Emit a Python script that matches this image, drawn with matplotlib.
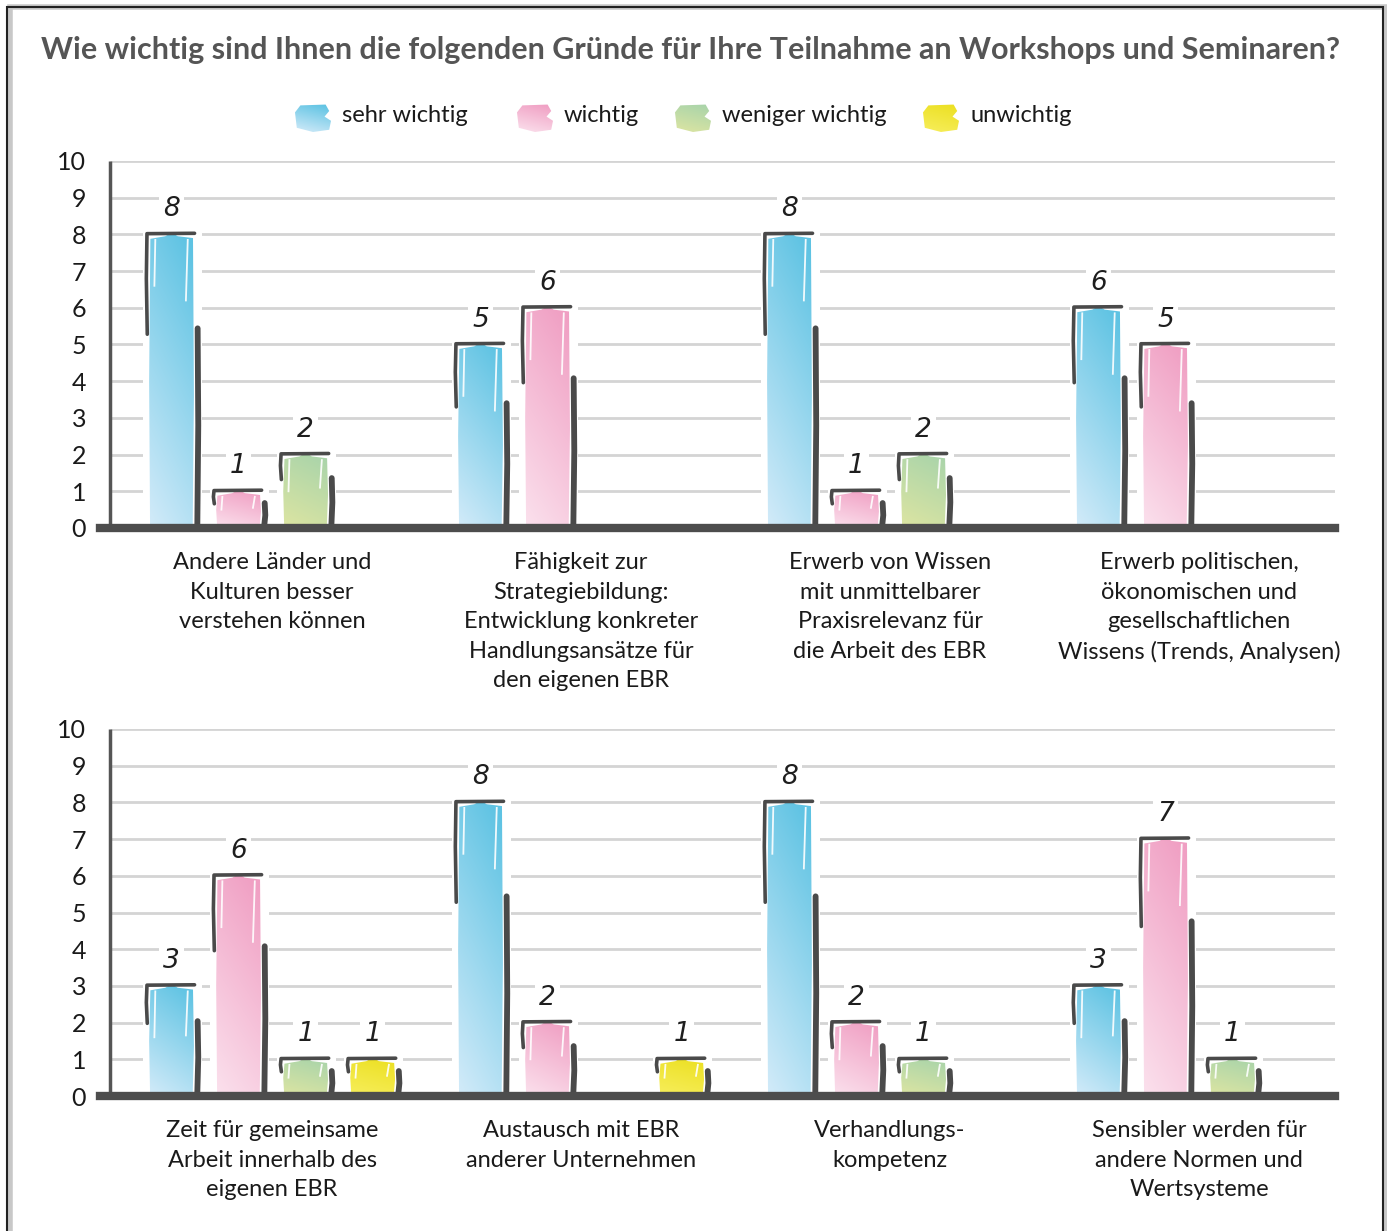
import matplotlib.pyplot as plt
import numpy as np
from matplotlib.colors import to_rgb
from matplotlib.patches import Rectangle, Polygon

plt.rcParams["font.family"] = ["Lato", "DejaVu Sans"]

title = "Wie wichtig sind Ihnen die folgenden Gründe für Ihre Teilnahme an Workshops und Seminaren?"
series = ["sehr wichtig", "wichtig", "weniger wichtig", "unwichtig"]

categories_top = [
    "Andere Länder und\nKulturen besser\nverstehen können",
    "Fähigkeit zur\nStrategiebildung:\nEntwicklung konkreter\nHandlungsansätze für\nden eigenen EBR",
    "Erwerb von Wissen\nmit unmittelbarer\nPraxisrelevanz für\ndie Arbeit des EBR",
    "Erwerb politischen,\nökonomischen und\ngesellschaftlichen\nWissens (Trends, Analysen)",
]
categories_bottom = [
    "Zeit für gemeinsame\nArbeit innerhalb des\neigenen EBR",
    "Austausch mit EBR\nanderer Unternehmen",
    "Verhandlungs-\nkompetenz",
    "Sensibler werden für\nandere Normen und\nWertsysteme",
]

sehr_top = [8, 5, 8, 6]
wichtig_top = [1, 6, 1, 5]
weniger_top = [2, 0, 2, 0]
unwichtig_top = [0, 0, 0, 0]

sehr_bottom = [3, 8, 8, 3]
wichtig_bottom = [6, 2, 2, 7]
weniger_bottom = [1, 0, 1, 1]
unwichtig_bottom = [1, 1, 0, 0]

y_ticks = list(range(11))

# gradient colours per series (top / bottom of bar)
col_top = ["#5ec3e3", "#f09fc3", "#a9d4aa", "#ece023"]
col_bot = ["#d3ebf9", "#fbe1ed", "#dde5a2", "#f7ee5c"]

W, H = 1387, 1231
fig = plt.figure(figsize=(W / 100, H / 100), dpi=100)
renderer = fig.canvas.get_renderer()

step = 0.217
bw = 0.145
xmin, xmax = -0.557, 3.44
xspine = -0.525
dark = "#4d4d4d"


def fit_width(txt, target_px):
    # shrink/grow a text so it spans the given pixel width
    w = txt.get_window_extent(renderer=renderer).width
    txt.set_fontsize(txt.get_fontsize() * target_px / w)


def gradient(top, bot, n=60):
    yy, xx = np.mgrid[0:1:n * 1j, 0:1:n * 1j]
    mix = np.clip(yy * 0.8 + xx * 0.25, 0, 1)[..., None]
    return np.array(to_rgb(bot)) + (np.array(to_rgb(top)) - np.array(to_rgb(bot))) * mix


def draw_panel(ax, cats, values):
    ax.set_xlim(xmin, xmax)
    ax.set_ylim(0, 10)
    for sp in ax.spines.values():
        sp.set_visible(False)
    ax.hlines(y_ticks[1:], xspine, xmax, color="#d4d4d4", lw=2, zorder=1)
    ax.vlines(xspine, 0, 10, color="#555555", lw=2.5, zorder=6)
    ax.axhline(0, color=dark, lw=6, zorder=7, clip_on=False)
    ax.set_yticks(y_ticks)
    ax.set_yticklabels([str(t) for t in y_ticks], fontsize=18, color="#1a1a1a")
    ax.tick_params(axis="y", length=0, pad=10)
    ax.set_xticks([])

    for s, vals in enumerate(values):
        for g, v in enumerate(vals):
            if v == 0:
                continue
            xc = g + (s - 1.5) * step
            x0, x1 = xc - bw / 2, xc + bw / 2
            # white backing that breaks the grid
            ax.add_patch(Rectangle((x0 - 0.02, 0), bw + 0.045, v + 0.05,
                                   color="white", zorder=2, lw=0))
            im = ax.imshow(gradient(col_top[s], col_bot[s]), origin="lower",
                           extent=(x0, x1, 0, v + 0.05), aspect="auto", zorder=3,
                           interpolation="bilinear")
            clip = Polygon([(x0 + 0.01, 0.0), (x0 + 0.003, 0.06), (x0, v * 0.5),
                            (x0 + 0.004, v - 0.12), (xc - 0.02, v - 0.05),
                            (xc, v + 0.05), (xc + 0.02, v - 0.05),
                            (x1 - 0.003, v - 0.1), (x1, v * 0.45),
                            (x1 - 0.004, 0.06), (x1 - 0.012, 0.0)],
                           closed=True, transform=ax.transData)
            im.set_clip_path(clip)
            # white highlight streaks
            ax.plot([x0 + 0.02, x0 + 0.017], [v - 0.15, v - min(1.4, v * 0.5)],
                    color="white", lw=1.3, alpha=0.9, zorder=4)
            ax.plot([x1 - 0.02, x1 - 0.026], [v - 0.15, v - min(1.8, v * 0.45)],
                    color="white", lw=1.3, alpha=0.9, zorder=4)
            # sketchy outline
            ax.plot([x0 - 0.006, x0 - 0.009, x0 - 0.007, x1 + 0.002],
                    [v * 0.66, v * 0.85, v + 0.02, v + 0.03],
                    color="#4a4a4a", lw=2.6, solid_capstyle="round", zorder=5)
            ax.plot([x1 + 0.012, x1 + 0.014, x1 + 0.011], [v * 0.68, v * 0.35, 0.1],
                    color="#4a4a4a", lw=4.2, solid_capstyle="round", zorder=5)
            ax.text(xc, v + 0.68, str(v), ha="center", va="center", fontsize=19,
                    style="italic", family="DejaVu Sans", fontweight="light",
                    color="#1e1e1e", zorder=6,
                    bbox=dict(facecolor="white", edgecolor="none", pad=3))

    for g, lab in enumerate(cats):
        ax.text(g, -0.66, lab, ha="center", va="top", fontsize=17,
                linespacing=1.5, color="#1a1a1a")


ax_top = fig.add_axes([100 / W, 1 - 528 / H, 1235 / W, 367 / H])
ax_bot = fig.add_axes([100 / W, 1 - 1096 / H, 1235 / W, 367 / H])

draw_panel(ax_top, categories_top, [sehr_top, wichtig_top, weniger_top, unwichtig_top])
draw_panel(ax_bot, categories_bottom, [sehr_bottom, wichtig_bottom, weniger_bottom, unwichtig_bottom])

t = fig.text(691 / W, 1 - 50 / H, title, ha="center", va="center", fontsize=24,
             fontweight="bold", color="#555555")
fit_width(t, 1297)

# legend
sw_x = [313, 535, 693, 941]
blob = [(0.05, 0.15), (0.0, 0.7), (0.15, 0.95), (0.85, 0.98), (0.95, 0.75),
        (0.82, 0.55), (1.0, 0.4), (0.95, 0.08), (0.5, 0.0)]
for s, name in enumerate(series):
    lax = fig.add_axes([(sw_x[s] - 18) / W, 1 - 132 / H, 36 / W, 28 / H])
    lax.set_axis_off()
    im = lax.imshow(gradient(col_top[s], col_bot[s]), origin="lower",
                    extent=(0, 1, 0, 1), aspect="auto")
    im.set_clip_path(Polygon(blob, closed=True, transform=lax.transData))
    lax.set_xlim(0, 1)
    lax.set_ylim(0, 1)
    fig.text((sw_x[s] + 29) / W, 1 - 115 / H, name, ha="left", va="center",
             fontsize=17, color="#1a1a1a")

# frame with shadow
fig.patches.append(Rectangle((10 / W, -0.02), 1376 / W, 1 - 7 / H + 0.02,
                             transform=fig.transFigure, fill=False,
                             ec="#c8c8c8", lw=4, zorder=-2))
fig.patches.append(Rectangle((7 / W, -0.02), 1376 / W, 1 - 7 / H + 0.02,
                             transform=fig.transFigure, fill=False,
                             ec="#222222", lw=1.5, zorder=-1))

fig.savefig("out.png", dpi=100)
